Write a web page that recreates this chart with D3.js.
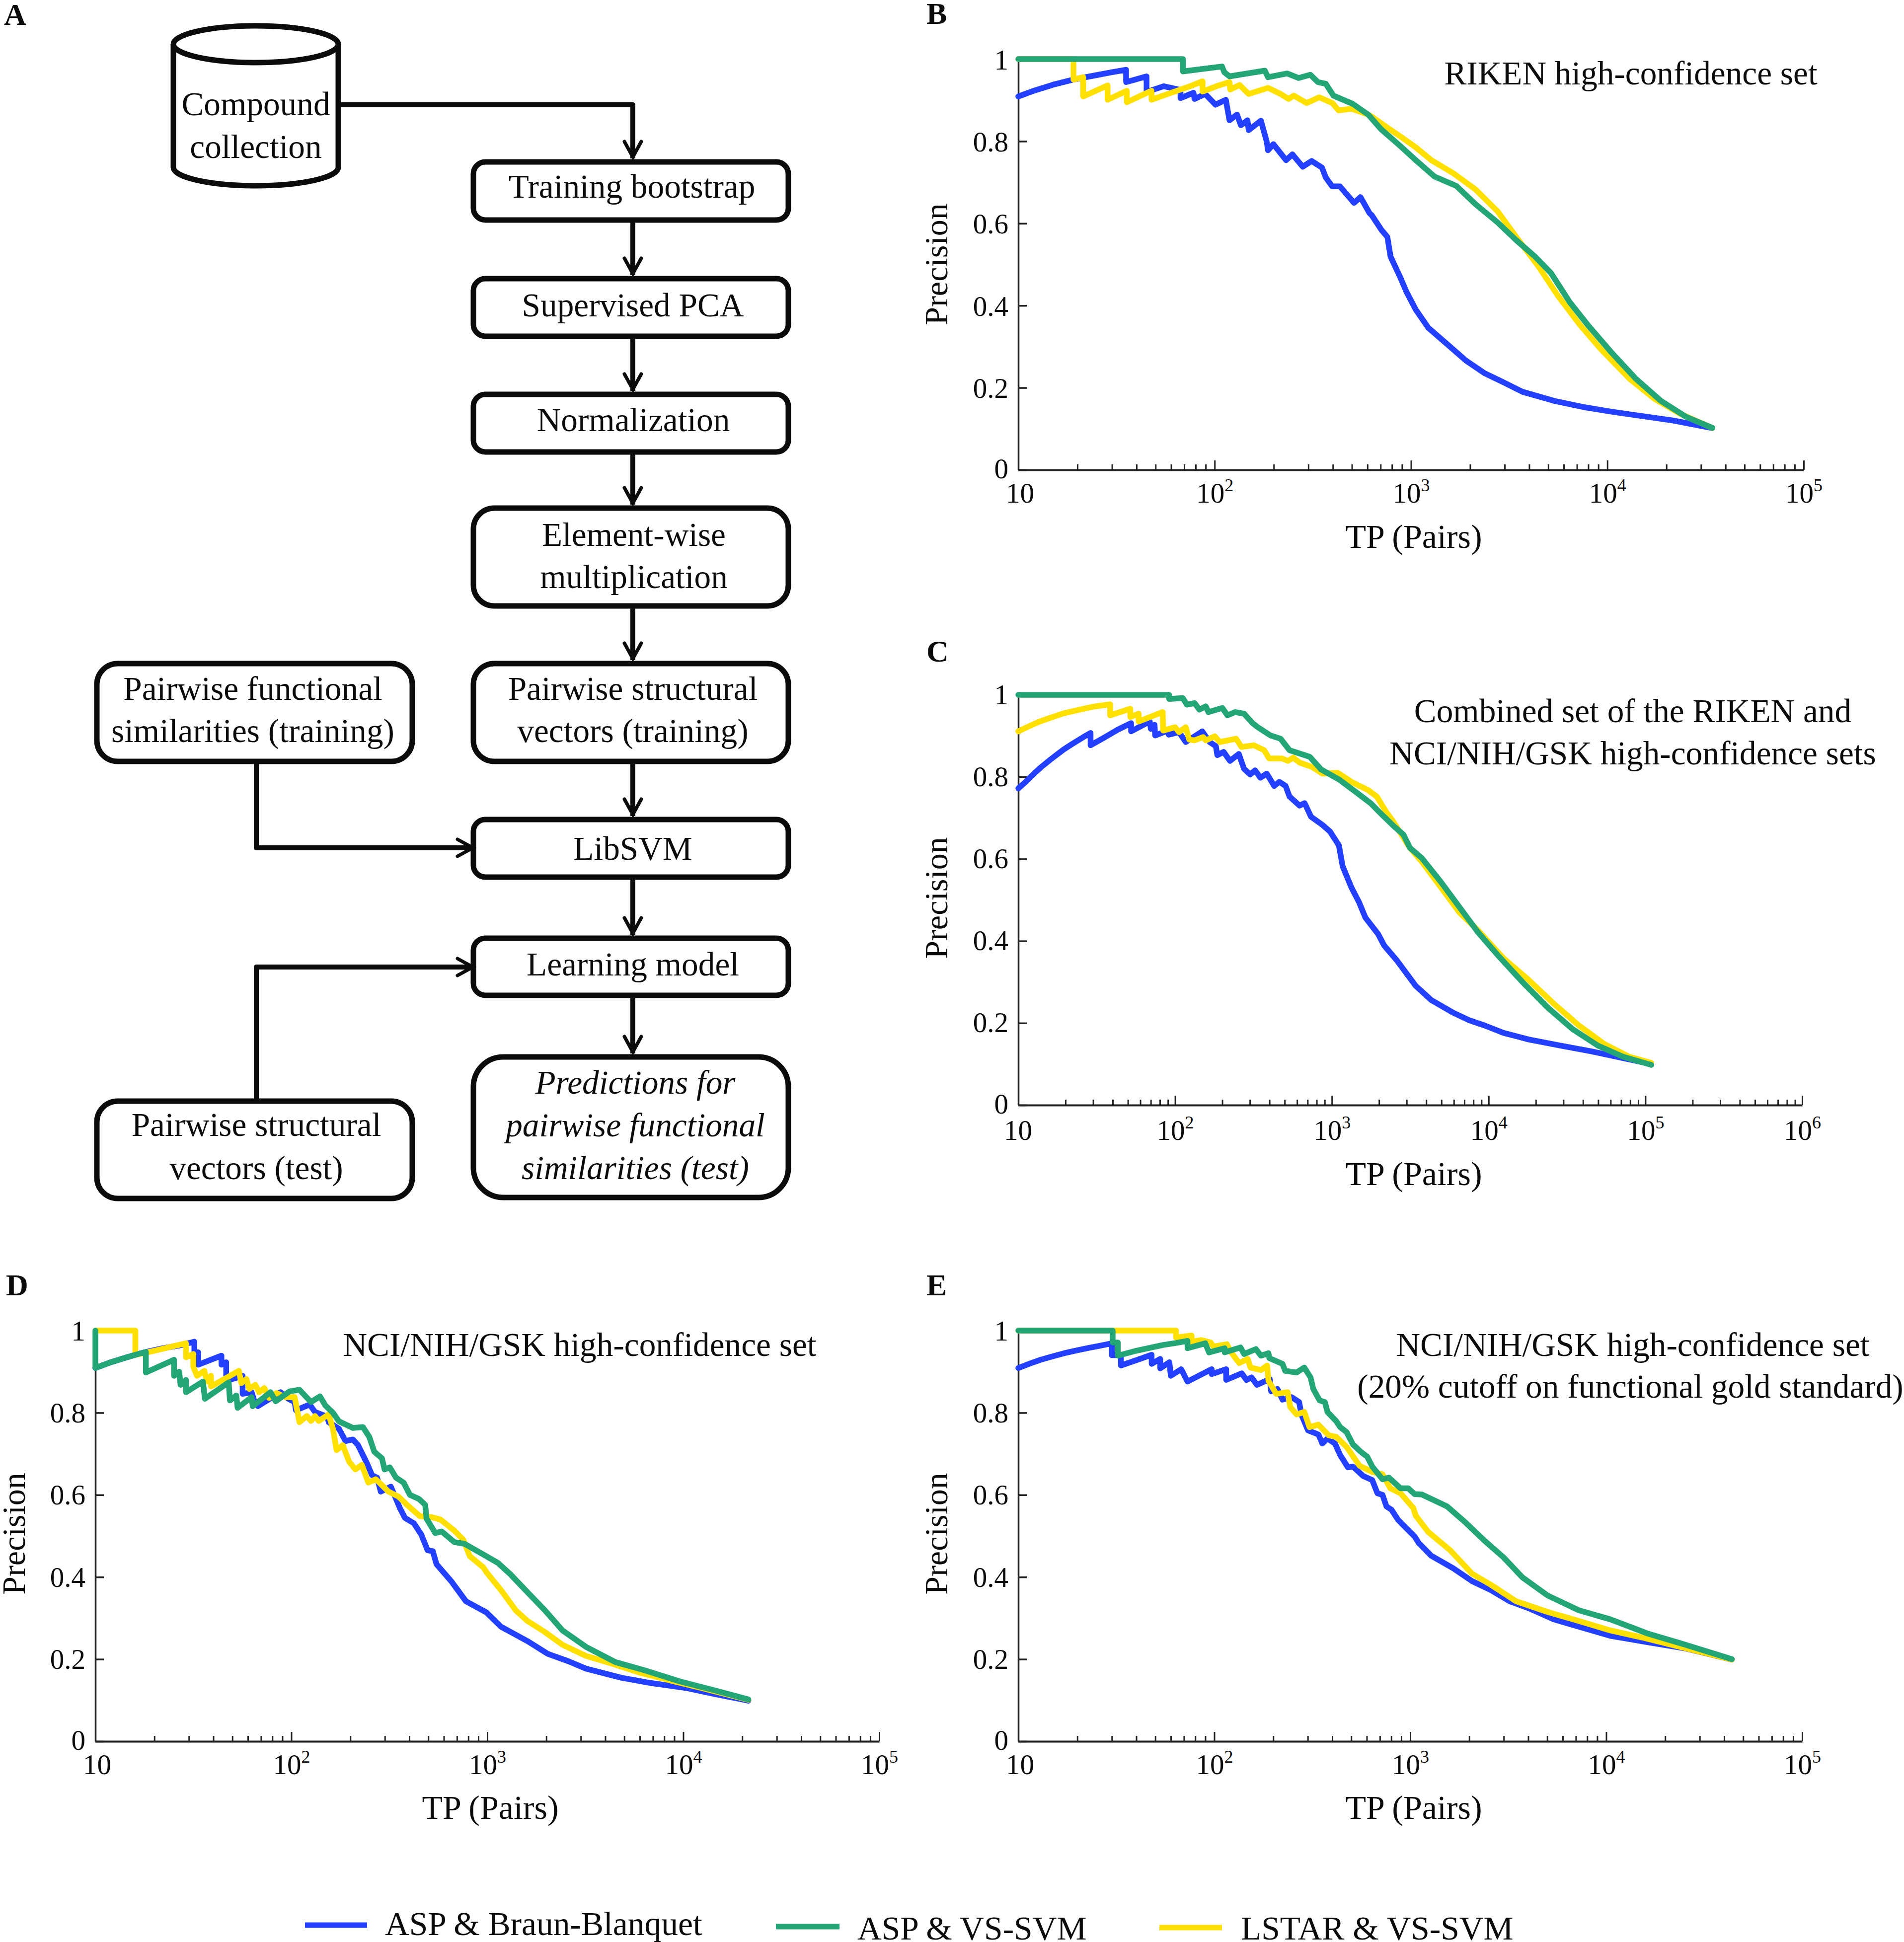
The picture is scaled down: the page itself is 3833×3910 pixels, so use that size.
<!DOCTYPE html>
<html>
<head>
<meta charset="utf-8">
<title>Precision vs TP</title>
<script src="https://cdn.jsdelivr.net/npm/d3@7/dist/d3.min.js"></script>
<style>
html,body{margin:0;padding:0;background:#fff;}
svg{display:block;}
text{font-family:"Liberation Serif","Times New Roman",serif;fill:#0b0b0b;}
</style>
</head>
<body>
<div id="chart"></div>
<script>
// ---------- Panel B: RIKEN ----------
const bBlueTP=[10,12,15,19,25,30,35.4,35.4,45,45,55,67,67,78,79,89.5,101,114,119,130,136,147,149,172,184,187,199,231,249,281,312,352,368,397,435,513,553,615,631,705,758,787,879,947,1058,1224,1528,1906,2377,2965,3700,5350,7740,10400,15000,21700,33900];
const bBluePrec=[.909,.923,.9375,.95,.961,.968,.974,.944,.958,.92,.934,.925,.905,.918,.903,.915,.889,.901,.851,.865,.839,.851,.827,.85,.80,.778,.793,.754,.768,.738,.752,.736,.712,.69,.69,.65,.664,.625,.62,.585,.567,.519,.47,.434,.39,.346,.306,.266,.235,.213,.19,.168,.152,.142,.131,.12,.102];
const bYellowTP=[10,19.1,19.1,21.4,21.4,28.5,28.5,35.7,35.7,47.7,47.7,60,75,86.8,86.8,105,119,120,134,149,187,217,238,253,294,341,398,428,498,605,631,758,912,1058,1270,1644,2128,2754,3436,4448,5560,7194,9310,12970,17400,23400,34300];
const bYellowPrec=[1,1,.95,.956,.909,.936,.901,.923,.895,.923,.901,.918,.934,.946,.921,.936,.944,.926,.937,.915,.93,.915,.903,.911,.893,.907,.893,.875,.879,.865,.86,.833,.807,.785,.754,.722,.683,.63,.567,.496,.426,.355,.293,.222,.173,.137,.102];
const bGreenTP=[10,69,69,109,112,119,180,187,234,268,307,336,368,403,505,605,608,705,879,1058,1318,1706,2128,2754,3436,4285,5165,6440,8040,10400,13960,18750,25200,34300];
const bGreenPrec=[1,1,.97,.982,.968,.958,.972,.956,.965,.954,.962,.944,.94,.911,.891,.865,.864,.829,.789,.754,.714,.691,.647,.603,.559,.519,.479,.408,.35,.288,.222,.168,.129,.102];

// ---------- Panel C: combined ----------
const cBlueTP=[10,11,12,13,14,16,18,19.5,22,26,28.9,28.9,35,43,52.4,52.4,60,69,70,74,74.6,90,91,106,117,149,166,182,186,204,224,255,275,301,324,350,384,429,462,507,537,622,671,736,871,973,1109,1172,1334,1493,1637,1972,2157,2594,3420,4305,5957,7499,9440,12450,18030,28600,45400,65600,109000];
const cBluePrec=[.772,.786,.8,.813,.824,.842,.857,.867,.88,.897,.907,.877,.895,.915,.931,.911,.923,.935,.917,.927,.901,.913,.903,.909,.885,.911,.885,.875,.853,.861,.839,.856,.82,.806,.816,.798,.808,.778,.788,.778,.752,.73,.736,.703,.683,.667,.633,.582,.53,.494,.457,.417,.389,.353,.291,.256,.225,.207,.194,.176,.16,.145,.131,.118,.1];
const cYellowTP=[10,11.5,13.5,16,19.5,24,30,38.5,38.5,51.8,51.8,58.6,58.6,83.4,84,100,106,117,123,133,151,157,179,193,245,265,318,370,398,480,525,567,622,750,871,1089,1361,1702,1936,2208,2466,3119,3750,4955,6531,8610,12450,18030,26060,37670,54600,78900,109000];
const cYellowPrec=[.911,.922,.934,.944,.955,.963,.971,.977,.95,.966,.946,.954,.935,.958,.913,.921,.909,.921,.891,.889,.897,.889,.899,.885,.893,.873,.877,.865,.845,.845,.839,.847,.835,.824,.808,.81,.786,.768,.752,.716,.691,.629,.593,.531,.469,.425,.358,.305,.247,.194,.149,.118,.103];
const cGreenTP=[10,91.6,91.6,112,119,133,143,157,163,200,216,241,275,312,337,406,471,537,723,855,1109,1413,1766,2050,2466,2864,3148,3750,4955,6531,8610,11350,16440,23770,34360,49770,71900,109000];
const cGreenPrec=[1,1,.99,.992,.976,.98,.964,.972,.958,.968,.95,.958,.954,.931,.921,.901,.893,.865,.849,.818,.794,.764,.736,.711,.681,.659,.627,.602,.544,.482,.42,.367,.3,.238,.185,.145,.118,.098];

// ---------- Panel D: NCI/NIH/GSK ----------
const dBlueTP=[10,12,14,16,18.1,22,27,32,32,33.5,33.5,44,44,46.5,46.5,47.2,56.4,56.4,62.7,64.6,67.5,88,96.6,104,105.5,124,132,153,155,175,189,206,219,243,258,274,286,322,358,380,422,461,496,527,551,654,778,989,1175,1603,2037,2594,3190,4820,6807,10300,14520,21500];
const dBluePrec=[.909,.923,.933,.941,.948,.957,.964,.973,.947,.947,.917,.939,.917,.923,.89,.878,.89,.846,.85,.83,.816,.85,.834,.826,.806,.82,.802,.79,.777,.761,.731,.735,.721,.677,.648,.642,.608,.62,.568,.544,.531,.503,.465,.463,.431,.39,.341,.314,.279,.244,.213,.195,.177,.155,.142,.13,.115,.099];
const dYellowTP=[10,16,16,20,25,29,29,31.6,31.6,33,36,37,38.9,38.9,54,55.6,59,61,65.5,68.5,72.8,77,84,93.6,104,110,120,126,132,138,155,163,170,183,197,212,229,247,270,313,352,397,454,519,577,679,754,813,957,989,1175,1396,1603,1968,2421,3190,4200,5930,8950,12650,21500];
const dYellowPrec=[1,1,.941,.951,.962,.969,.935,.943,.912,.89,.902,.876,.89,.864,.902,.872,.882,.858,.868,.85,.86,.836,.848,.838,.838,.777,.792,.78,.792,.78,.796,.761,.709,.721,.681,.662,.673,.63,.638,.608,.596,.572,.548,.546,.54,.513,.491,.451,.423,.412,.368,.319,.293,.266,.235,.208,.191,.168,.146,.129,.101];
const dGreenTP=[10,10,12,14,16,18.1,18.1,25.2,25.2,26.8,27.2,29,29,35.4,36.2,47.9,48.6,52.4,53.2,62.7,63.5,78.3,83.2,98,110,126,140,149,163,175,206,232,250,265,290,299,318,342,374,403,448,482,490,543,585,679,765,986,1135,1303,1603,1968,2421,3190,4500,6353,9600,14520,21500];
const dGreenPrec=[1,.909,.923,.933,.941,.948,.898,.929,.89,.90,.868,.88,.85,.876,.834,.874,.83,.842,.812,.838,.816,.85,.828,.852,.856,.826,.84,.818,.8,.779,.763,.765,.741,.705,.689,.662,.667,.642,.63,.6,.59,.576,.542,.507,.511,.485,.481,.451,.434,.408,.363,.319,.27,.23,.193,.173,.146,.124,.102];

// ---------- Panel E: NCI/NIH/GSK 20% ----------
const eBlueTP=[10,11.5,13,15,17.2,20,23,26,30,30,33.4,33.4,47.9,47.9,53,53,59,60,67.8,73,97,97,115,115,138,146,155,165,192,195,210,223,248,271,279,301,340,356,378,413,439,481,510,575,640,680,722,756,802,865,919,1052,1104,1279,1660,2070,2582,3221,4027,5408,7261,10500,16370,25470,43750];
const eBluePrec=[.909,.92,.929,.9375,.945,.952,.958,.963,.969,.94,.94,.915,.941,.919,.931,.908,.923,.89,.906,.876,.906,.894,.906,.88,.896,.88,.886,.868,.882,.852,.858,.832,.838,.826,.794,.757,.747,.725,.737,.725,.697,.667,.669,.646,.636,.604,.6,.572,.564,.54,.527,.499,.483,.452,.421,.39,.368,.341,.324,.297,.279,.257,.241,.226,.199];
const eYellowTP=[10,63.8,63.8,76.6,76.6,86,96,99,116,122,134,148,153,173,186,189,207,237,244,263,288,306,340,384,420,473,551,640,722,791,892,1037,1065,1234,1600,2070,2582,3470,5023,7261,10500,15200,23700,43750];
const eYellowPrec=[1,1,.983,.988,.973,.977,.971,.961,.967,.947,.921,.931,.91,.904,.915,.878,.846,.85,.814,.796,.802,.765,.771,.745,.741,.717,.671,.656,.65,.616,.604,.568,.55,.51,.465,.408,.381,.341,.315,.293,.27,.253,.23,.199];
const eGreenTP=[10,30.3,30.3,32.2,32.2,40,47,55,64,73,73,90,94,113,113,136,142,163,173,189,191,223,230,263,288,310,320,345,367,378,420,439,473,510,559,603,640,722,778,892,977,1052,1146,1541,1923,2399,2992,3740,5023,7261,10500,16370,25470,43750];
const eGreenPrec=[1,1,.971,.971,.939,.951,.958,.965,.970,.975,.957,.969,.947,.957,.947,.959,.943,.955,.939,.945,.933,.919,.902,.898,.91,.886,.858,.83,.826,.802,.779,.765,.753,.723,.705,.693,.669,.638,.642,.616,.616,.602,.601,.572,.532,.488,.448,.399,.355,.319,.297,.262,.235,.2];

// ---------- Tick labels and text ----------
const precisionTicks=[0,0.2,0.4,0.6,0.8,1];
const precisionTickLabels=["0","0.2","0.4","0.6","0.8","1"];
const seriesNames=["ASP & Braun-Blanquet","ASP & VS-SVM","LSTAR & VS-SVM"];
const panelLetters=["A","B","C","D","E"];
const seriesColors=["#2340ff","#23a575","#ffe000"];

const W=3833,H=3910;
const svg=d3.select("#chart").append("svg").attr("width",W).attr("height",H).attr("viewBox",`0 0 ${W} ${H}`);
svg.append("rect").attr("width",W).attr("height",H).attr("fill","#fff");

function txt(parent,x,y,s,size,opts={}){
  return parent.append("text").attr("x",x).attr("y",y).attr("font-size",size)
    .attr("text-anchor",opts.anchor||"middle")
    .attr("font-weight",opts.bold?"bold":null)
    .attr("font-style",opts.italic?"italic":null).text(s);
}

// ---------- Panels ----------
const panels=[
 {left:2050,right:3631,top:119,bottom:946,maxExp:5,labelDy:66,firstDx:3,yDy:20,xlabX:2846,xlabY:1103,ylabX:1907,ylabY:532,
  series:[[bBlueTP,bBluePrec,0],[bYellowTP,bYellowPrec,2],[bGreenTP,bGreenPrec,1]],
  notes:[["RIKEN high-confidence set",3283,170]]},
 {left:2050,right:3628,top:1399,bottom:2225,maxExp:6,labelDy:70,firstDx:-1,yDy:18,xlabX:2846,xlabY:2386,ylabX:1907,ylabY:1808,
  series:[[cBlueTP,cBluePrec,0],[cYellowTP,cYellowPrec,2],[cGreenTP,cGreenPrec,1]],
  notes:[["Combined set of the RIKEN and",3287,1454],["NCI/NIH/GSK high-confidence sets",3287,1539]]},
 {left:192,right:1770,top:2679,bottom:3506,maxExp:5,labelDy:66,firstDx:3,yDy:19,xlabX:987,xlabY:3662,ylabX:50,ylabY:3088,
  series:[[dBlueTP,dBluePrec,0],[dYellowTP,dYellowPrec,2],[dGreenTP,dGreenPrec,1]],
  notes:[["NCI/NIH/GSK high-confidence set",1167,2730]]},
 {left:2050,right:3628,top:2679,bottom:3506,maxExp:5,labelDy:66,firstDx:3,yDy:19,xlabX:2846,xlabY:3662,ylabX:1907,ylabY:3088,
  series:[[eBlueTP,eBluePrec,0],[eYellowTP,eYellowPrec,2],[eGreenTP,eGreenPrec,1]],
  notes:[["NCI/NIH/GSK high-confidence set",3287,2730],["(20% cutoff on functional gold standard)",3282,2814]]}
];

panels.forEach(p=>{
  const x=d3.scaleLog().domain([10,Math.pow(10,p.maxExp)]).range([p.left,p.right]);
  const y=d3.scaleLinear().domain([0,1]).range([p.bottom,p.top]);
  const g=svg.append("g");
  const majors=d3.range(1,p.maxExp+1).map(e=>Math.pow(10,e));
  const minors=[];
  d3.range(1,p.maxExp).forEach(e=>d3.range(2,10).forEach(m=>minors.push(m*Math.pow(10,e))));

  // minor x ticks
  g.append("g").attr("transform",`translate(0,${p.bottom})`)
    .call(d3.axisBottom(x).tickValues(minors).tickSizeInner(-11).tickSizeOuter(0).tickFormat(""))
    .call(a=>{a.select(".domain").remove();a.selectAll("line").attr("stroke","#222").attr("stroke-width",3);a.selectAll("text").remove();});

  // major x ticks
  const ax=g.append("g").attr("transform",`translate(0,${p.bottom})`)
    .call(d3.axisBottom(x).tickValues(majors).tickSizeInner(-19).tickSizeOuter(0).tickFormat(""));
  ax.select(".domain").attr("stroke","#222").attr("stroke-width",4);
  ax.selectAll("line").attr("stroke","#222").attr("stroke-width",3);
  ax.selectAll(".tick text").each(function(d,i){
    const t=d3.select(this).attr("fill",null).attr("font-size",57).attr("font-family",null)
      .attr("y",p.labelDy).attr("dy",null).attr("text-anchor","middle");
    t.text(null);
    if(i===0){t.attr("x",p.firstDx).text("10");}
    else{
      t.append("tspan").text("10");
      t.append("tspan").attr("font-size",36).attr("dy",-23).text(String(Math.round(Math.log10(d))));
    }
  });
  ax.attr("font-family",null).attr("font-size",null);

  // y axis
  const ay=g.append("g").attr("transform",`translate(${p.left},0)`)
    .call(d3.axisLeft(y).tickValues(precisionTicks).tickSizeInner(-17).tickSizeOuter(0)
      .tickFormat((d,i)=>precisionTickLabels[i]));
  ay.select(".domain").attr("stroke","#222").attr("stroke-width",3.5);
  ay.selectAll("line").attr("stroke","#222").attr("stroke-width",3.5);
  ay.selectAll(".tick text").attr("fill",null).attr("font-size",57).attr("x",-20).attr("dy",null)
    .attr("y",d=>d===0?16:p.yDy).attr("text-anchor","end");
  ay.attr("font-family",null).attr("font-size",null);

  // curves
  const line=d3.line().x(d=>x(d[0])).y(d=>y(d[1]));
  p.series.forEach(([tp,prec,c])=>{
    g.append("path").datum(tp.map((t,i)=>[t,prec[i]])).attr("d",line)
      .attr("fill","none").attr("stroke",seriesColors[c]).attr("stroke-width",11.5)
      .attr("stroke-linejoin","round").attr("stroke-linecap","round");
  });

  // labels
  txt(g,p.xlabX,p.xlabY,"TP (Pairs)",68);
  g.append("text").attr("transform",`translate(${p.ylabX},${p.ylabY}) rotate(-90)`)
    .attr("font-size",66).attr("text-anchor","middle").text("Precision");
  p.notes.forEach(n=>txt(g,n[1],n[2],n[0],67.3));
});

// ---------- Panel letters ----------
[[8,50],[1865,48],[1865,1332],[12,2608],[1865,2608]].forEach((pos,i)=>{
  txt(svg,pos[0],pos[1],panelLetters[i],62,{anchor:"start",bold:true});
});

// ---------- Legend ----------
[[614,739,3876,775,3896],[1562,1690,3879,1726,3905],[2334,2460,3881,2498,3905]].forEach((l,i)=>{
  svg.append("line").attr("x1",l[0]).attr("x2",l[1]).attr("y1",l[2]).attr("y2",l[2])
    .attr("stroke",seriesColors[i]).attr("stroke-width",11);
  txt(svg,l[3],l[4],seriesNames[i],67.5,{anchor:"start"});
});

// ---------- Flowchart ----------
const fc=svg.append("g");
const sw=11;
const boxes=[
 {x0:953,x1:1587,y0:326,y1:443,r:24,lines:[["Training bootstrap",1272,398]]},
 {x0:953,x1:1587,y0:561,y1:677,r:24,lines:[["Supervised PCA",1274,637]]},
 {x0:953,x1:1587,y0:794,y1:910,r:24,lines:[["Normalization",1275,868]]},
 {x0:953,x1:1587,y0:1023,y1:1220,r:42,lines:[["Element-wise",1276,1099],["multiplication",1276,1184]]},
 {x0:953,x1:1587,y0:1336,y1:1533,r:42,lines:[["Pairwise structural",1274,1409],["vectors (training)",1274,1494]]},
 {x0:195,x1:830,y0:1336,y1:1533,r:42,lines:[["Pairwise functional",509,1409],["similarities (training)",509,1494]]},
 {x0:953,x1:1587,y0:1650,y1:1766,r:24,lines:[["LibSVM",1274,1731]]},
 {x0:953,x1:1587,y0:1889,y1:2004,r:24,lines:[["Learning model",1274,1964]]},
 {x0:953,x1:1587,y0:2128,y1:2411,r:60,italic:true,lines:[["Predictions for",1279,2202],["pairwise functional",1279,2288],["similarities (test)",1279,2374]]},
 {x0:195,x1:830,y0:2217,y1:2413,r:42,lines:[["Pairwise structural",516,2287],["vectors (test)",516,2374]]}
];
boxes.forEach(b=>{
  fc.append("rect").attr("x",b.x0).attr("y",b.y0).attr("width",b.x1-b.x0).attr("height",b.y1-b.y0)
    .attr("rx",b.r).attr("ry",b.r).attr("fill","#fff").attr("stroke","#0b0b0b").attr("stroke-width",sw);
  b.lines.forEach(l=>txt(fc,l[1],l[2],l[0],67.3,{italic:b.italic}));
});
// cylinder
const cyl=fc.append("g").attr("fill","none").attr("stroke","#0b0b0b").attr("stroke-width",sw);
const cxl=349,cxr=681,cxm=515,rx=166,ry=37,cyT=89,cyB=337;
cyl.append("path").attr("fill","#fff").attr("d",`M${cxl},${cyT} L${cxl},${cyB} A${rx},${ry} 0 0 0 ${cxr},${cyB} L${cxr},${cyT}`);
cyl.append("ellipse").attr("cx",cxm).attr("cy",cyT).attr("rx",rx).attr("ry",ry).attr("fill","#fff");
txt(fc,515,232,"Compound",67.3);
txt(fc,515,318,"collection",67.3);

// arrows
const arrowPaths=[
 [[686,211],[1274,211],[1274,319]],
 [[1274,448],[1274,554]],
 [[1274,682],[1274,787]],
 [[1274,915],[1274,1016]],
 [[1274,1225],[1274,1329]],
 [[1274,1538],[1274,1643]],
 [[1274,1771],[1274,1882]],
 [[1274,2009],[1274,2121]],
 [[516,1538],[516,1707],[955,1707]],
 [[516,2212],[516,1947],[955,1947]]
];
arrowPaths.forEach(pts=>{
  fc.append("path").attr("d",d3.line()(pts)).attr("fill","none").attr("stroke","#0b0b0b")
    .attr("stroke-width",10).attr("stroke-linejoin","round");
  const [a,b]=pts.slice(-2);
  const dx=Math.sign(b[0]-a[0]),dy=Math.sign(b[1]-a[1]);
  const tip=[b[0],b[1]];
  const back=34,half=17;
  const h=[[tip[0]-dx*back-dy*half,tip[1]-dy*back-dx*half],[tip[0]-dx*3,tip[1]-dy*3],[tip[0]-dx*back+dy*half,tip[1]-dy*back+dx*half]];
  fc.append("path").attr("d",d3.line()(h)).attr("fill","none").attr("stroke","#0b0b0b")
    .attr("stroke-width",7).attr("stroke-linejoin","miter").attr("stroke-linecap","round");
});
</script>
</body>
</html>
